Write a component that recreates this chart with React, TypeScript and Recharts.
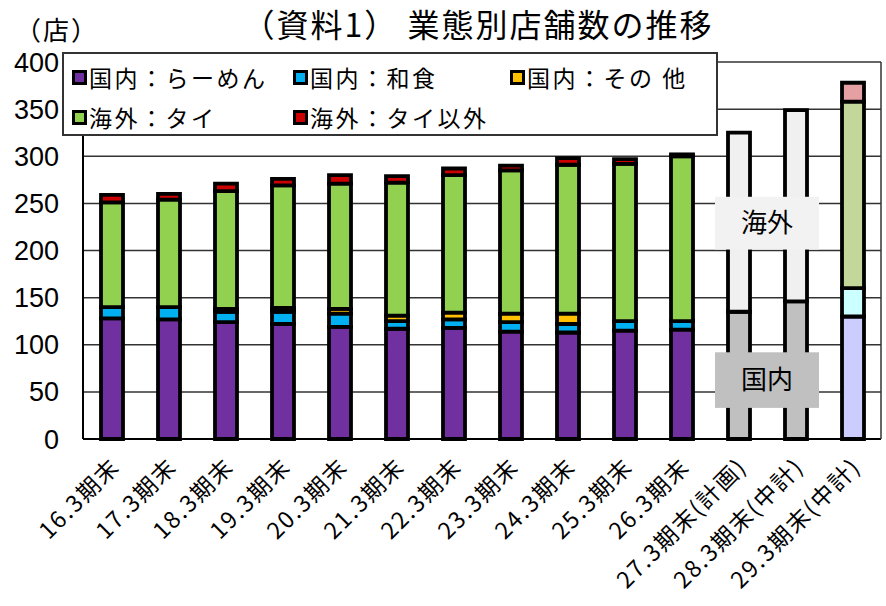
import React from 'react';
import { BarChart, Bar, XAxis, YAxis, CartesianGrid, Legend, ReferenceArea, Cell } from 'recharts';

const categories = [
  '16.3期末', '17.3期末', '18.3期末', '19.3期末', '20.3期末', '21.3期末', '22.3期末',
  '23.3期末', '24.3期末', '25.3期末', '26.3期末', '27.3期末(計画)', '28.3期末(中計)', '29.3期末(中計)',
];
const ramen = [128, 127, 124, 122, 119, 117, 118, 114, 113, 115, 116, null, null, 130];
const washoku = [12, 13, 11, 13, 14, 8, 9, 10, 9, 10, 9, null, null, 30];
const otherDomestic = [0, 0, 3, 4, 5, 6, 7, 9, 11, 0, 0, null, null, 0];
const thai = [111, 114, 125, 130, 133, 141, 146, 152, 158, 167, 175, null, null, 198];
const overseasOther = [8, 6, 8, 7, 9, 7, 7, 5, 7, 5, 2, null, null, 20];
const planDomestic = [null, null, null, null, null, null, null, null, null, null, null, 135, 146, null];
const planOverseas = [null, null, null, null, null, null, null, null, null, null, null, 190, 203, null];
const yTicks = [0, 50, 100, 150, 200, 250, 300, 350, 400];

const seriesNames = ['国内：らーめん', '国内：和食', '国内：その 他', '海外：タイ', '海外：タイ以外'];
const seriesColors = ['#7030a0', '#00b0f0', '#ffc000', '#92d050', '#cc0000'];
const midTermColors = ['#ccccff', '#ccffff', '#ffe699', '#c4d79b', '#e6a0a4'];

const data = categories.map((name, i) => ({
  name,
  ramen: ramen[i],
  washoku: washoku[i],
  otherDomestic: otherDomestic[i],
  thai: thai[i],
  overseasOther: overseasOther[i],
  planDomestic: planDomestic[i],
  planOverseas: planOverseas[i],
}));

const seriesKeys = ['ramen', 'washoku', 'otherDomestic', 'thai', 'overseasOther'];
const midTermIndex = categories.length - 1;

const FONT = "'Noto Sans CJK JP', sans-serif";
const BAR_STROKE = 3.8;

const XTick = (props: any) => {
  const { x, y, payload } = props;
  return (
    <g transform={`translate(${x + 10},${y + 21})`}>
      <text
        textAnchor="end"
        transform="rotate(-45)"
        fontSize={23}
        letterSpacing={2}
        fontFamily={FONT}
        fill="#000"
      >
        {payload.value}
      </text>
    </g>
  );
};

const legendCols = [10, 231, 448];
const legendRows = [25, 65];

const renderLegend = (props: any) => {
  const all = (props.payload || []).filter((p: any) => seriesNames.indexOf(p.value) >= 0);
  const items = [...all].sort(
    (a: any, b: any) => seriesNames.indexOf(a.value) - seriesNames.indexOf(b.value)
  );
  return (
    <div
      style={{
        position: 'relative',
        width: 656,
        height: 84,
        boxSizing: 'border-box',
        border: '2px solid #333',
        background: '#fff',
        fontFamily: FONT,
      }}
    >
      {items.map((item: any) => {
        const i = seriesNames.indexOf(item.value);
        const col = i % 3;
        const row = Math.floor(i / 3);
        return (
          <div
            key={item.value}
            style={{
              position: 'absolute',
              left: legendCols[col] - 2,
              top: legendRows[row] - 2 - 16,
              height: 32,
              display: 'flex',
              alignItems: 'center',
              whiteSpace: 'nowrap',
            }}
          >
            <span
              style={{
                display: 'inline-block',
                width: 15,
                height: 15,
                boxSizing: 'border-box',
                border: '3px solid #000',
                background: seriesColors[i],
                marginRight: 2,
              }}
            />
            <span style={{ fontSize: 23, letterSpacing: 2.5, color: '#000' }}>{item.value}</span>
          </div>
        );
      })}
    </div>
  );
};

const AnnotBox = (props: any) => {
  const { x, y, width, height, fill } = props;
  return <rect x={x + 5} y={y} width={width - 10} height={height} fill={fill} stroke="none" />;
};

export default function App() {
  return (
    <div style={{ position: 'absolute', left: 0, top: 0, width: 886, height: 606, background: '#fff' }}>
      <div
        style={{
          position: 'absolute',
          left: 0,
          width: 956,
          top: 1,
          textAlign: 'center',
          fontFamily: FONT,
          fontSize: 32,
          letterSpacing: 2,
          lineHeight: '44px',
          color: '#000',
          zIndex: 2,
        }}
      >
        （資料1） 業態別店舗数の推移
      </div>
      <div
        style={{
          position: 'absolute',
          left: 15,
          top: 12,
          fontFamily: FONT,
          fontSize: 26,
          lineHeight: '34px',
          letterSpacing: 2,
          color: '#000',
          zIndex: 2,
        }}
      >
        （店）
      </div>
      <BarChart
        width={886}
        height={606}
        data={data}
        margin={{ top: 62, right: 0, bottom: 0, left: 0 }}
        barCategoryGap={0}
      >
        <CartesianGrid horizontal vertical={false} stroke="#333" strokeWidth={1.5} />
        <XAxis
          dataKey="name"
          height={167}
          interval={0}
          tickLine={false}
          axisLine={{ stroke: '#000', strokeWidth: 2 }}
          tick={<XTick />}
        />
        <YAxis
          domain={[0, 400]}
          ticks={yTicks}
          width={83}
          tickLine={false}
          tickSize={0}
          tickMargin={24}
          axisLine={{ stroke: '#000', strokeWidth: 2 }}
          tick={{ fontSize: 27, fill: '#000', fontFamily: "'Liberation Sans', Arial, sans-serif" }}
          interval={0}
        />
        <YAxis
          yAxisId="right"
          orientation="right"
          domain={[0, 400]}
          width={5}
          tick={false}
          tickLine={false}
          axisLine={{ stroke: '#333', strokeWidth: 1.5 }}
        />
        <Legend
          layout="vertical"
          align="center"
          verticalAlign="middle"
          wrapperStyle={{ left: 62, top: 52, width: 656, height: 84 }}
          content={renderLegend}
        />
        {seriesKeys.map((key, si) => (
          <Bar
            key={key}
            dataKey={key}
            name={seriesNames[si]}
            stackId="a"
            fill={seriesColors[si]}
            stroke="#000"
            strokeWidth={BAR_STROKE}
            barSize={22}
            isAnimationActive={false}
          >
            {data.map((_, i) => (
              <Cell
                key={i}
                fill={i === midTermIndex ? midTermColors[si] : seriesColors[si]}
                stroke="#000"
                strokeWidth={BAR_STROKE}
              />
            ))}
          </Bar>
        ))}
        <Bar
          dataKey="planDomestic"
          stackId="a"
          fill="#c0c0c0"
          stroke="#000"
          strokeWidth={BAR_STROKE}
          barSize={22}
          legendType="none"
          isAnimationActive={false}
        />
        <Bar
          dataKey="planOverseas"
          stackId="a"
          fill="#f0f0f0"
          stroke="#000"
          strokeWidth={BAR_STROKE}
          barSize={22}
          legendType="none"
          isAnimationActive={false}
        />
        <ReferenceArea
          x1={categories[11]}
          x2={categories[12]}
          y1={201}
          y2={257}
          fill="#f2f2f2"
          fillOpacity={1}
          shape={<AnnotBox />}
          zIndex={700}
          label={{ value: '海外', position: 'center', fontSize: 26, fill: '#000', fontFamily: FONT }}
        />
        <ReferenceArea
          x1={categories[11]}
          x2={categories[12]}
          y1={33}
          y2={92}
          fill="#c0c0c0"
          fillOpacity={1}
          shape={<AnnotBox />}
          zIndex={700}
          label={{ value: '国内', position: 'center', fontSize: 26, fill: '#000', fontFamily: FONT }}
        />
      </BarChart>
    </div>
  );
}
